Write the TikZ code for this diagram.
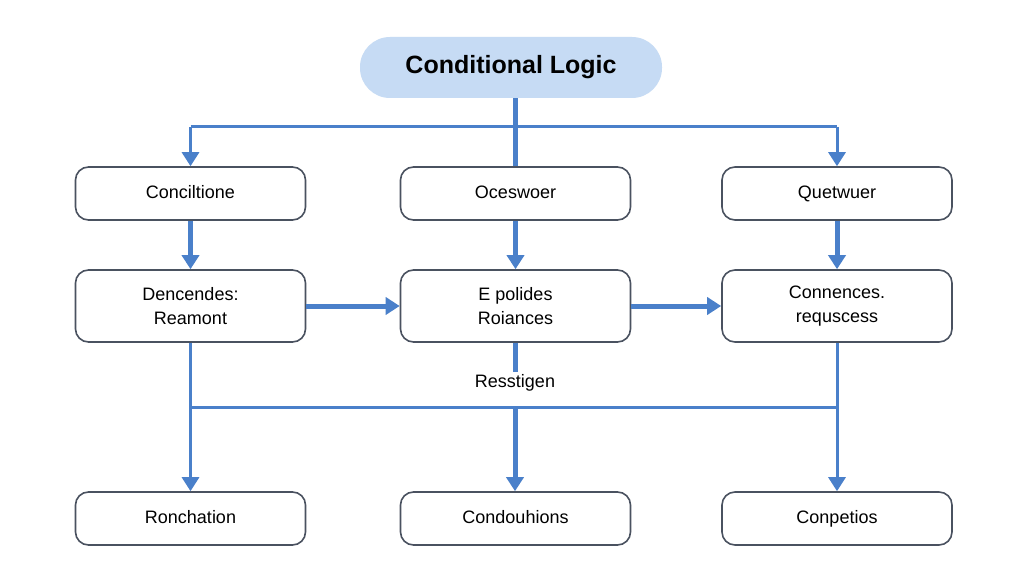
\documentclass[tikz,border=0pt]{standalone}
\usepackage{fontspec}
\setmainfont{Liberation Sans}
\usetikzlibrary{arrows.meta}
\definecolor{ln}{HTML}{4A80CA}
\definecolor{pill}{HTML}{C6DBF4}
\definecolor{bd}{HTML}{4A5260}
\begin{document}
\begin{tikzpicture}[x=1pt,y=-1pt,
 box/.style={draw=bd,line width=1.6pt,rounded corners=13pt,fill=white,minimum width=230pt,minimum height=53pt,align=center,font=\fontsize{18}{24}\selectfont},
 tall/.style={box,minimum height=72pt},
 thk/.style={draw=ln,line width=5pt},
 thn/.style={draw=ln,line width=3pt},
 arr/.style={-{Triangle[length=14pt,width=17pt]}}]
\useasboundingbox[fill=white] (0,0) rectangle (1024,585);
\node[fill=pill,rounded corners=30pt,minimum width=302pt,minimum height=61pt,font=\fontsize{25}{28}\selectfont\bfseries] (t) at (511,67.5) {Conditional Logic};
\node[box] (a1) at (190.5,193.5) {\strut Conciltione};
\node[box] (b1) at (515.5,193.5) {\strut Oceswoer};
\node[box] (c1) at (837,193.5) {\strut Quetwuer};
\node[tall] (a2) at (190.5,306) {Dencendes:\\Reamont};
\node[tall] (b2) at (515.5,306) {E polides\\Roiances};
\node[tall] (c2) at (837,306) {Connences.\\requscess};
\node[box] (a3) at (190.5,518.5) {\strut Ronchation};
\node[box] (b3) at (515.5,518.5) {\strut Condouhions};
\node[box] (c3) at (837,518.5) {\strut Conpetios};
\node[font=\fontsize{18}{22}\selectfont] (lab) at (515,383) {\strut Resstigen};
\coordinate (h1) at (515,127);
\coordinate (hl) at (190.5,127);
\coordinate (hr) at (837,127);
\coordinate (m) at (515,407);
\coordinate (ml) at (190.5,407);
\coordinate (mr) at (837,407);
\coordinate (lt) at (515,372);
\draw[thk] (t.south -| h1) -- (b1.north -| h1);
\draw[thn] (hl) -- (hr);
\draw[thn,arr] (hl) -- (a1.north);
\draw[thn,arr] (hr) -- (c1.north);
\draw[thk,arr] (a1) -- (a2);
\draw[thk,arr] (b1) -- (b2);
\draw[thk,arr] (c1) -- (c2);
\draw[thk,arr] (a2) -- (b2);
\draw[thk,arr] (b2) -- (c2);
\draw[thk] (b2.south -| lt) -- (lt);
\draw[thn] (ml) -- (mr);
\draw[thn,arr] (a2.south) -- (a3.north);
\draw[thn,arr] (c2.south) -- (c3.north);
\draw[thk,arr] (m) -- (b3.north -| m);
\end{tikzpicture}
\end{document}
